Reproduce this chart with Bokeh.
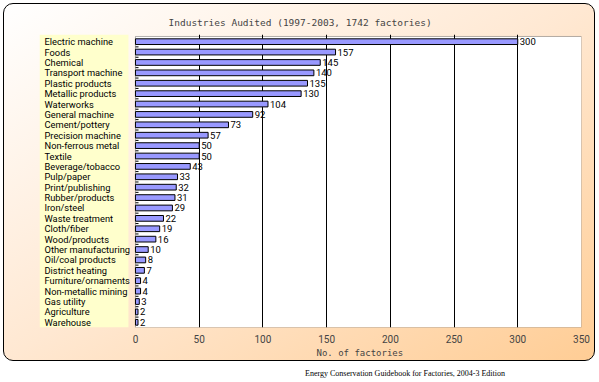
import numpy as np
from bokeh.plotting import figure
from bokeh.models import (ColumnDataSource, LabelSet, BoxAnnotation, FixedTicker,
                          Range1d, Div, Title)
from bokeh.core.properties import value
from bokeh.layouts import column
from bokeh.embed import file_html
from bokeh.resources import INLINE

categories = ["Electric machine", "Foods", "Chemical", "Transport machine",
              "Plastic products", "Metallic products", "Waterworks",
              "General machine", "Cement/pottery", "Precision machine",
              "Non-ferrous metal", "Textile", "Beverage/tobacco", "Pulp/paper",
              "Print/publishing", "Rubber/products", "Iron/steel",
              "Waste treatment", "Cloth/fiber", "Wood/products",
              "Other manufacturing", "Oil/coal products", "District heating",
              "Furniture/ornaments", "Non-metallic mining", "Gas utility",
              "Agriculture", "Warehouse"]
factories = [300, 157, 145, 140, 135, 130, 104, 92, 73, 57, 50, 50, 43, 33,
             32, 31, 29, 22, 19, 16, 10, 8, 7, 4, 4, 3, 2, 2]
x_ticks = [0, 50, 100, 150, 200, 250, 300, 350]
title_text = "Industries Audited (1997-2003, 1742 factories)"
x_title = "No. of factories"
source_note = "Energy Conservation Guidebook for Factories, 2004-3 Edition"

LABEL_FONT = "Roboto"

n = len(categories)
idx = np.arange(n)
xmax = x_ticks[-1]
panel_left = -75.3      # left edge of the label panel (data units)
panel_right = -5.5      # right edge of the label panel
src = ColumnDataSource(dict(y=idx, cat=categories, val=factories,
                            lbl=[str(v) for v in factories]))
bounds = idx[:-1] + 0.5
tsrc = ColumnDataSource(dict(b=bounds, x0=np.zeros(len(bounds)),
                             x1=np.full(len(bounds), 2.4)))

p = figure(width=592, height=358, output_backend="svg", toolbar_location=None,
           x_range=Range1d(panel_left, xmax),
           y_range=Range1d(n - 0.5, -0.69),
           min_border_left=35, min_border_right=15,
           min_border_top=30, min_border_bottom=35)
p.styles = {"background": "linear-gradient(to bottom right, #ffffff 0%, #ffe8d2 50%, #ffcd95 100%)",
            "border": "1px solid #000000", "border-radius": "10px",
            "box-sizing": "border-box", "margin-left": "3px", "margin-top": "3px"}
p.border_fill_alpha = 0
p.background_fill_alpha = 0
p.outline_line_color = None

# title
p.title.text = title_text
p.title.text_font = "DejaVu Sans Mono"
p.title.text_font_size = "9.5px"
p.title.text_font_style = "normal"
p.title.align = "left"
p.title.offset = 129
p.title.vertical_align = "top"
p.title.standoff = 10

# plot area (white) and label panel (yellow)
p.add_layout(BoxAnnotation(left=0, right=xmax, top=-0.5, bottom=n - 0.5,
                           fill_color="white", fill_alpha=1,
                           line_color="black", line_width=1, level="image"))
p.add_layout(BoxAnnotation(left=panel_left, right=panel_right, top=-0.69, bottom=n - 0.5,
                           fill_color="#ffffcc", fill_alpha=1, line_alpha=0,
                           level="image"))

# inward ticks on the value axis
p.segment(x0="x0", x1="x1", y0="b", y1="b", source=tsrc, line_color="black", line_width=1)

# bars
p.hbar(y="y", right="val", height=0.55, source=src,
       fill_color="#9999ff", line_color="black", line_width=1)

# category labels
p.add_layout(LabelSet(x=5, x_units="screen", y="y", text="cat", source=src,
                      text_font=value(LABEL_FONT), text_font_size=value("9.3px"),
                      text_baseline="middle", text_align="left", text_color="black"))
# value labels
p.add_layout(LabelSet(x="val", y="y", text="lbl", source=src, x_offset=2,
                      text_font=value(LABEL_FONT), text_font_size=value("9.5px"),
                      text_baseline="middle", text_align="left", text_color="black"))

# axes
p.yaxis.visible = False
p.xaxis.ticker = FixedTicker(ticks=x_ticks)
p.xaxis.axis_line_color = None
p.xaxis.major_tick_line_color = None
p.xaxis.minor_tick_line_color = None
p.xaxis.major_label_standoff = 1
p.xaxis.major_label_text_font = LABEL_FONT
p.xaxis.major_label_text_font_size = "10px"

p.add_layout(Title(text=x_title, align="left", offset=277, standoff=0,
                   text_font="DejaVu Sans Mono", text_font_size="9px",
                   text_font_style="normal"), "below")

p.xgrid.ticker = FixedTicker(ticks=x_ticks[1:-1])
p.xgrid.grid_line_color = "black"
p.ygrid.grid_line_color = None

note = Div(text=source_note, width=592, height=18,
           styles={"font-family": "Liberation Serif", "font-size": "8px",
                   "padding-left": "300px", "padding-top": "2px", "color": "black"})

layout = column(p, note, spacing=0)
open("out.html", "w").write(file_html(layout, INLINE))
